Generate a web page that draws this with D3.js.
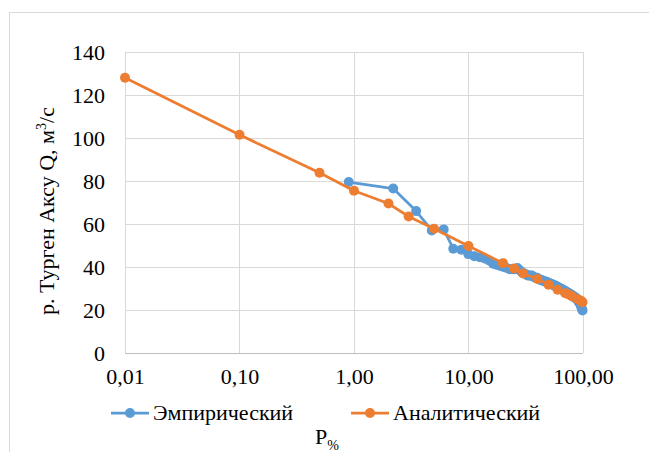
<!DOCTYPE html>
<html>
<head>
<meta charset="utf-8">
<script src="https://cdn.jsdelivr.net/npm/d3@7"></script>
</head>
<body style="margin:0">
<div id="chart"></div>
<script>
// Эмпирический: обеспеченность P%, расход Q
var empP = [0.90, 2.20, 3.49, 4.78, 6.07, 7.36, 8.66, 9.95, 11.24, 12.53, 13.82, 15.12, 16.41, 17.70,
  18.99, 20.28, 21.58, 22.87, 24.16, 25.45, 26.74, 28.04, 29.33, 30.62, 31.91, 33.20, 34.50, 35.79,
  37.08, 38.37, 39.66, 40.96, 42.25, 43.54, 44.83, 46.12, 47.42, 48.71, 50.00, 51.29, 52.58, 53.88,
  55.17, 56.46, 57.75, 59.04, 60.34, 61.63, 62.92, 64.21, 65.50, 66.80, 68.09, 69.38, 70.67, 71.96,
  73.26, 74.55, 75.84, 77.13, 78.42, 79.72, 81.01, 82.30, 83.59, 84.88, 86.18, 87.47, 88.76, 90.05,
  91.34, 92.64, 93.93, 95.22, 96.51, 97.80, 99.10];
var empQ = [79.5, 76.5, 66, 57, 57.5, 48.5, 48, 46, 45, 44.5, 44, 43, 41.5, 41,
  40.5, 40, 39.5, 39, 39, 39, 39.5, 38.5, 37.5, 37, 36.5, 36, 36, 36,
  35.5, 35, 35, 34.5, 34, 34, 33.5, 33.5, 33, 33, 32.5, 32.5, 32, 32,
  31.5, 31.5, 31, 31, 30.5, 30.5, 30, 30, 29.5, 29.5, 29, 29, 28.5, 28.5,
  28, 28, 27.5, 27.5, 27, 27, 26.5, 26.5, 26, 26, 25.5, 25.5, 25, 24.5,
  24, 23.5, 23, 22.5, 21.5, 20.5, 19.8];

// Аналитический
var anP = [0.01, 0.1, 0.5, 1, 2, 3, 5, 10, 20, 25, 30, 40, 50, 60, 70, 75, 80, 90, 95, 97, 99];
var anQ = [128, 101.5, 83.8, 75.5, 69.5, 63.5, 57.8, 49.8, 41.8, 39.3, 37, 34.4, 31.8, 29.4, 27.8, 27.2, 26.4, 25, 24.4, 24, 23.6];

var xTicks = [0.01, 0.1, 1, 10, 100];
var xTickLabels = ["0,01", "0,10", "1,00", "10,00", "100,00"];
var yTicks = [0, 20, 40, 60, 80, 100, 120, 140];

var FONT = "Liberation Serif";

var W = 649, H = 452;
var margin = {top: 52, right: 66, bottom: 99, left: 125};
var width = W - margin.left - margin.right,
    height = H - margin.top - margin.bottom;

var svg = d3.select("#chart").append("svg")
  .attr("width", W)
  .attr("height", H)
  .attr("font-family", FONT)
  .attr("font-size", 22);

// outer chart frame
svg.append("rect")
  .attr("x", 9.5).attr("y", 12.5)
  .attr("width", W + 20).attr("height", H + 20)
  .attr("fill", "#fff")
  .attr("stroke", "#d9d9d9");

var x = d3.scaleLog().domain([0.01, 100]).range([0, width]);
var y = d3.scaleLinear().domain([0, 140]).range([height, 0]);

var g = svg.append("g")
  .attr("transform", "translate(" + margin.left + "," + margin.top + ")");

// gridlines
g.selectAll(".hgrid")
  .data(yTicks.slice(1))
  .enter().append("line")
  .attr("x1", 0).attr("x2", width)
  .attr("y1", function(d) { return Math.round(y(d)) + 0.5; })
  .attr("y2", function(d) { return Math.round(y(d)) + 0.5; })
  .attr("stroke", "#d9d9d9").attr("stroke-width", 1);

g.selectAll(".vgrid")
  .data(xTicks)
  .enter().append("line")
  .attr("y1", 0).attr("y2", height)
  .attr("x1", function(d) { return Math.round(x(d)) + 0.5; })
  .attr("x2", function(d) { return Math.round(x(d)) + 0.5; })
  .attr("stroke", "#d9d9d9").attr("stroke-width", 1);

// x axis
var xAxis = g.append("g")
  .attr("transform", "translate(0," + height + ")")
  .call(d3.axisBottom(x).tickValues(xTicks)
    .tickFormat(function(d, i) { return xTickLabels[i]; })
    .tickSize(0).tickPadding(15))
  .attr("font-family", FONT)
  .attr("font-size", 22);
xAxis.select(".domain").attr("stroke", "#bfbfbf").attr("d", "M0,0.5H" + width);
xAxis.selectAll("text").attr("fill", "#000");

// y axis
var yAxis = g.append("g")
  .call(d3.axisLeft(y).tickValues(yTicks).tickSize(0).tickPadding(20))
  .attr("font-family", FONT)
  .attr("font-size", 22);
yAxis.select(".domain").remove();
yAxis.selectAll("text").attr("fill", "#000");

// series
var line = d3.line()
  .x(function(d) { return x(d[0]); })
  .y(function(d) { return y(d[1]); });

function drawSeries(P, Q, color) {
  var pts = P.map(function(p, i) { return [p, Q[i]]; });
  g.append("path")
    .datum(pts)
    .attr("fill", "none")
    .attr("stroke", color)
    .attr("stroke-width", 2.75)
    .attr("stroke-linejoin", "round")
    .attr("d", line);
  g.selectAll(null)
    .data(pts)
    .enter().append("circle")
    .attr("cx", function(d) { return x(d[0]); })
    .attr("cy", function(d) { return y(d[1]); })
    .attr("r", 5)
    .attr("fill", color);
}

drawSeries(empP, empQ, "#5b9bd5");
drawSeries(anP, anQ, "#ed7d31");

// y title
var yTitle = svg.append("text")
  .attr("transform", "translate(54," + 211 + ") rotate(-90)")
  .attr("text-anchor", "middle");
yTitle.append("tspan").text("р. Турген Аксу Q, м");
yTitle.append("tspan").attr("dy", -8).attr("font-size", 14).text("3");
yTitle.append("tspan").attr("dy", 8).text("/с");

// legend
var legendItems = [
  {label: "Эмпирический", color: "#5b9bd5", x: 111},
  {label: "Аналитический", color: "#ed7d31", x: 351}
];
var leg = svg.selectAll(".legend")
  .data(legendItems)
  .enter().append("g")
  .attr("transform", function(d) { return "translate(" + d.x + ",413)"; });
leg.append("line")
  .attr("x1", 0).attr("x2", 38)
  .attr("stroke", function(d) { return d.color; })
  .attr("stroke-width", 2.75);
leg.append("circle")
  .attr("cx", 19).attr("r", 5)
  .attr("fill", function(d) { return d.color; });
leg.append("text")
  .attr("x", 42).attr("y", 7)
  .text(function(d) { return d.label; });

// x title
var xTitle = svg.append("text")
  .attr("x", 315).attr("y", 444);
xTitle.append("tspan").text("P");
xTitle.append("tspan").attr("dy", 6).attr("font-size", 14).text("%");
</script>
</body>
</html>
